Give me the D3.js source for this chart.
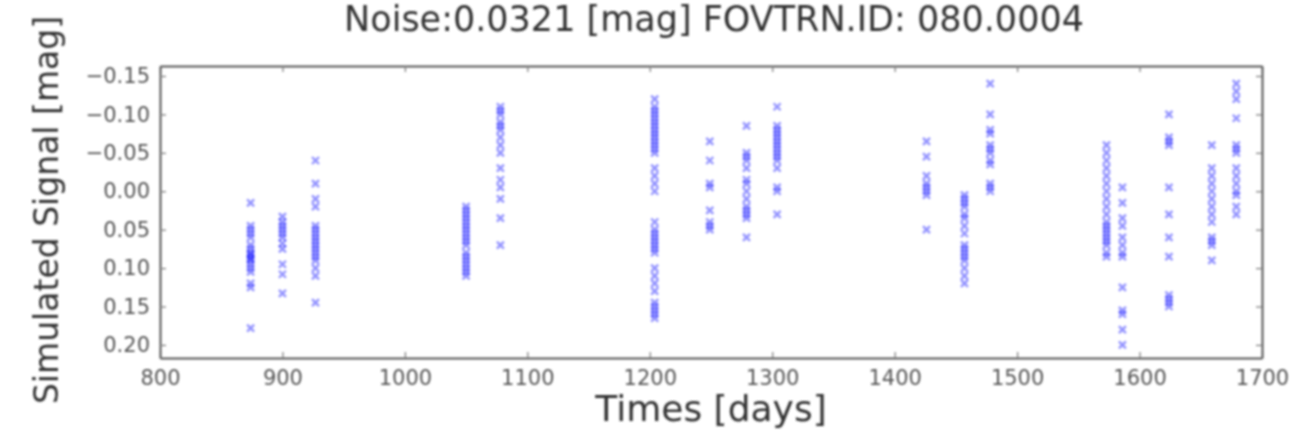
<!DOCTYPE html>
<html>
<head>
<meta charset="utf-8">
<script src="https://cdn.jsdelivr.net/npm/d3@7"></script>
<style>
  html, body { margin: 0; padding: 0; background: #fff; }
</style>
</head>
<body>
<div id="chart"></div>
<script>
// observation seasons (days) and the simulated signal [mag] measured in each
const seasonTimes = [874, 900, 927, 1050, 1078, 1204, 1249, 1279, 1304, 1426, 1457, 1478, 1573, 1586, 1624, 1659, 1679];
const seasonSignals = [
  [0.015, 0.045, 0.05, 0.055, 0.06, 0.07, 0.075, 0.08, 0.082, 0.085, 0.088, 0.09, 0.095, 0.10, 0.105, 0.12, 0.125, 0.178],
  [0.033, 0.04, 0.045, 0.05, 0.055, 0.06, 0.068, 0.075, 0.095, 0.108, 0.133],
  [-0.04, -0.01, 0.01, 0.02, 0.045, 0.05, 0.055, 0.06, 0.065, 0.07, 0.075, 0.08, 0.085, 0.09, 0.10, 0.11, 0.145],
  [0.02, 0.025, 0.03, 0.035, 0.04, 0.045, 0.05, 0.055, 0.06, 0.065, 0.07, 0.08, 0.085, 0.09, 0.095, 0.10, 0.105, 0.11],
  [-0.11, -0.105, -0.10, -0.09, -0.085, -0.08, -0.07, -0.06, -0.05, -0.03, -0.015, -0.005, 0.01, 0.035, 0.07],
  [-0.12, -0.11, -0.105, -0.10, -0.095, -0.09, -0.085, -0.08, -0.075, -0.07, -0.065, -0.06, -0.055, -0.05, -0.03, -0.02, -0.01, 0.0,
   0.04, 0.05, 0.055, 0.06, 0.065, 0.07, 0.075, 0.08, 0.10, 0.11, 0.12, 0.13, 0.145, 0.15, 0.155, 0.16, 0.165],
  [-0.065, -0.04, -0.01, -0.005, 0.025, 0.04, 0.045, 0.05],
  [-0.085, -0.05, -0.045, -0.04, -0.03, -0.015, -0.01, 0.0, 0.01, 0.02, 0.025, 0.03, 0.035, 0.06],
  [-0.11, -0.085, -0.08, -0.075, -0.07, -0.065, -0.06, -0.055, -0.05, -0.045, -0.04, -0.03, -0.005, 0.0, 0.03],
  [-0.065, -0.045, -0.02, -0.01, -0.005, 0.0, 0.005, 0.05],
  [0.005, 0.01, 0.015, 0.02, 0.03, 0.035, 0.045, 0.055, 0.07, 0.075, 0.08, 0.085, 0.09, 0.10, 0.11, 0.12],
  [-0.14, -0.10, -0.08, -0.075, -0.06, -0.055, -0.05, -0.04, -0.035, -0.01, -0.005, 0.0],
  [-0.06, -0.05, -0.04, -0.03, -0.02, -0.01, 0.0, 0.01, 0.02, 0.03, 0.04, 0.045, 0.05, 0.055, 0.06, 0.065, 0.07, 0.08, 0.085],
  [-0.005, 0.015, 0.035, 0.045, 0.06, 0.07, 0.08, 0.085, 0.125, 0.155, 0.16, 0.18, 0.20],
  [-0.10, -0.07, -0.065, -0.06, -0.005, 0.03, 0.06, 0.085, 0.135, 0.14, 0.145, 0.15],
  [-0.06, -0.03, -0.02, -0.01, 0.0, 0.01, 0.02, 0.03, 0.04, 0.06, 0.065, 0.07, 0.09],
  [-0.14, -0.13, -0.12, -0.095, -0.06, -0.055, -0.05, -0.03, -0.02, -0.01, 0.0, 0.005, 0.02, 0.03]
];
const xTicks = [800, 900, 1000, 1100, 1200, 1300, 1400, 1500, 1600, 1700];
const yTicks = [-0.15, -0.10, -0.05, 0.00, 0.05, 0.10, 0.15, 0.20];
const titleText = "Noise:0.0321 [mag] FOVTRN.ID: 080.0004";

const points = seasonTimes.flatMap((t, i) => seasonSignals[i].map(v => ({t, v})));

const width = 1312;
const height = 438;
const marginTop = 66;
const marginRight = 50;
const marginBottom = 80;
const marginLeft = 160;

const svg = d3.select("#chart")
  .append("svg")
  .attr("width", width)
  .attr("height", height)
  .attr("viewBox", [0, 0, width, height])
  .style("font-family", "'DejaVu Sans', sans-serif");

// the reference is a soft, upscaled picture
svg.append("defs").append("filter")
  .attr("id", "soft")
  .append("feGaussianBlur")
  .attr("stdDeviation", 1.1);

const root = svg.append("g").attr("filter", "url(#soft)");

const x = d3.scaleLinear()
  .domain([800, 1700])
  .range([marginLeft, width - marginRight]);

// magnitudes: brighter (negative) at the top
const y = d3.scaleLinear()
  .domain([-0.163, 0.217])
  .range([marginTop, height - marginBottom]);

const tickFmt = d => d3.format(".2f")(d).replace("-", "\u2212");

// axes with inward ticks on all four sides
root.append("g")
  .attr("transform", `translate(0,${height - marginBottom})`)
  .call(d3.axisBottom(x).tickValues(xTicks).tickFormat(d3.format("d")).tickSize(-6).tickPadding(12).tickSizeOuter(0));
root.append("g")
  .attr("transform", `translate(0,${marginTop})`)
  .call(d3.axisTop(x).tickValues(xTicks).tickSize(-6).tickFormat("").tickSizeOuter(0));
root.append("g")
  .attr("transform", `translate(${marginLeft},0)`)
  .call(d3.axisLeft(y).tickValues(yTicks).tickSize(-6).tickPadding(10).tickFormat(tickFmt).tickSizeOuter(0));
root.append("g")
  .attr("transform", `translate(${width - marginRight},0)`)
  .call(d3.axisRight(y).tickValues(yTicks).tickSize(-6).tickFormat("").tickSizeOuter(0));

root.selectAll(".domain").attr("stroke", "#555").attr("stroke-width", 2);
root.selectAll(".tick line").attr("stroke", "#777").attr("stroke-width", 1.2);
root.selectAll(".tick text")
  .attr("fill", "#555")
  .style("font-size", "21px")
  .style("font-family", "'DejaVu Sans', sans-serif");

// blue "x" markers
const s = 3.5;
root.append("g")
  .attr("stroke", "#0000ff")
  .attr("stroke-opacity", 0.42)
  .attr("stroke-width", 2.4)
  .attr("fill", "none")
  .selectAll("path")
  .data(points)
  .join("path")
    .attr("d", d => {
      const px = x(d.t), py = y(d.v);
      return `M${px - s},${py - s}L${px + s},${py + s}M${px - s},${py + s}L${px + s},${py - s}`;
    });

root.append("text")
  .attr("x", 714)
  .attr("y", 31)
  .attr("text-anchor", "middle")
  .attr("fill", "#333")
  .style("font-size", "35px")
  .text(titleText);

root.append("text")
  .attr("x", 711)
  .attr("y", 421)
  .attr("text-anchor", "middle")
  .attr("fill", "#333")
  .style("font-size", "36px")
  .text("Times [days]");

root.append("text")
  .attr("transform", `translate(58,${210}) rotate(-90)`)
  .attr("text-anchor", "middle")
  .attr("fill", "#333")
  .style("font-size", "33px")
  .text("Simulated Signal [mag]");
</script>
</body>
</html>
